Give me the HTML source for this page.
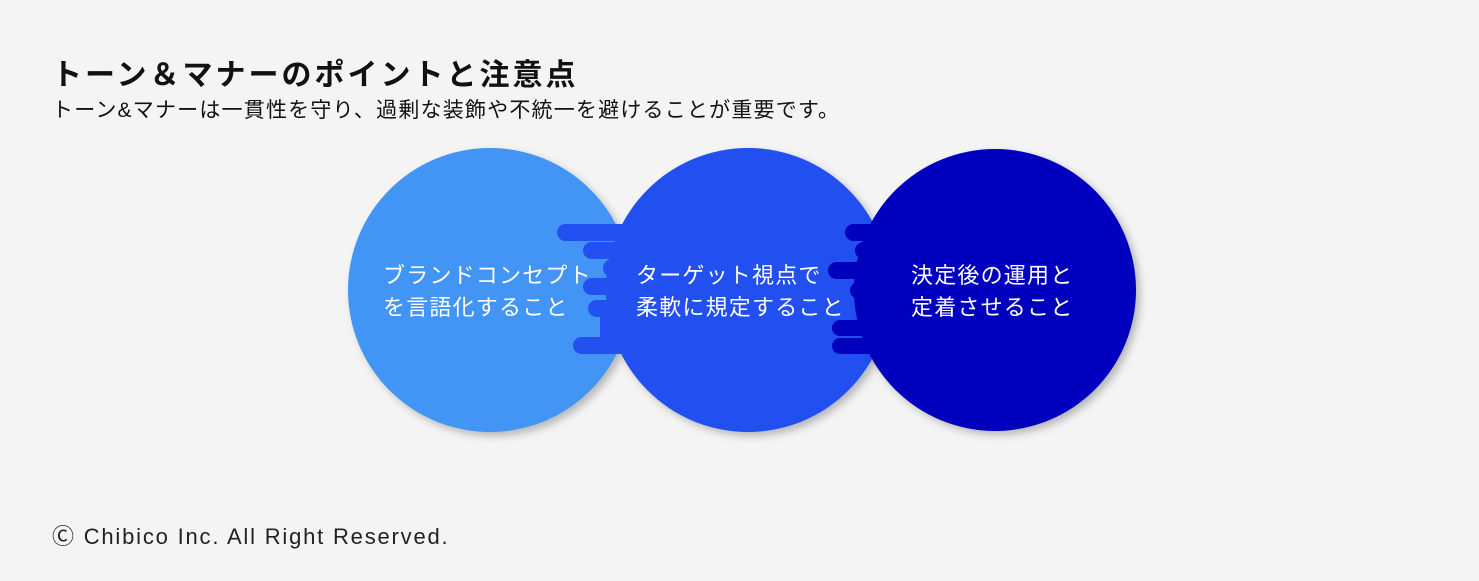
<!DOCTYPE html>
<html><head><meta charset="utf-8"><style>
body{margin:0;width:1479px;height:581px;background:#f4f4f4;font-family:"Liberation Sans","Noto Sans CJK JP",sans-serif;position:relative;overflow:hidden}
.t{position:absolute;left:52px;top:50px;font-size:30px;font-weight:bold;letter-spacing:3px;color:#111;white-space:nowrap}
.s{position:absolute;left:52px;top:94px;font-size:21px;letter-spacing:1.2px;color:#111;white-space:nowrap}
.f{position:absolute;left:52px;top:519px;font-size:22px;letter-spacing:1.8px;color:#222;white-space:nowrap}
.c{position:absolute;color:#fff;font-size:22px;line-height:32px;white-space:nowrap;letter-spacing:1.2px}
</style></head><body>
<div class="t">トーン＆マナーのポイントと注意点</div>
<div class="s">トーン&amp;マナーは一貫性を守り、過剰な装飾や不統一を避けることが重要です。</div>
<svg width="1479" height="581" style="position:absolute;left:0;top:0">
<defs><filter id="sh" x="-20%" y="-20%" width="140%" height="140%"><feDropShadow dx="4" dy="4" stdDeviation="4" flood-color="#000" flood-opacity="0.25"/></filter></defs>
<circle cx="490" cy="290" r="142" fill="#4394f5" filter="url(#sh)"/>
<g fill="#2350f0">
<circle cx="748" cy="290" r="142" filter="url(#sh)"/>
<rect x="557" y="224" width="120" height="17" rx="8.5"/>
<rect x="583" y="242" width="100" height="17" rx="8.5"/>
<rect x="603" y="259" width="80" height="18" rx="9"/>
<rect x="583" y="278" width="100" height="17" rx="8.5"/>
<rect x="588" y="300" width="100" height="17" rx="8.5"/>
<rect x="573" y="337" width="110" height="17" rx="8.5"/>
<rect x="600" y="316" width="80" height="22"/>
</g>
<g fill="#0000be">
<circle cx="995" cy="290" r="141" filter="url(#sh)"/>
<rect x="845" y="224" width="120" height="17" rx="8.5"/>
<rect x="855" y="242" width="100" height="17" rx="8.5"/>
<rect x="828" y="262" width="120" height="17" rx="8.5"/>
<rect x="850" y="282" width="100" height="17" rx="8.5"/>
<rect x="860" y="300" width="100" height="17" rx="8.5"/>
<rect x="832" y="320" width="120" height="16" rx="8"/>
<rect x="832" y="338" width="120" height="16" rx="8"/>
</g>
</svg>
<div class="c" style="left:383px;top:260px">ブランドコンセプト<br>を言語化すること</div>
<div class="c" style="left:636px;top:260px">ターゲット視点で<br>柔軟に規定すること</div>
<div class="c" style="left:911px;top:260px">決定後の運用と<br>定着させること</div>
<div class="f">Ⓒ Chibico Inc. All Right Reserved.</div>
</body></html>
